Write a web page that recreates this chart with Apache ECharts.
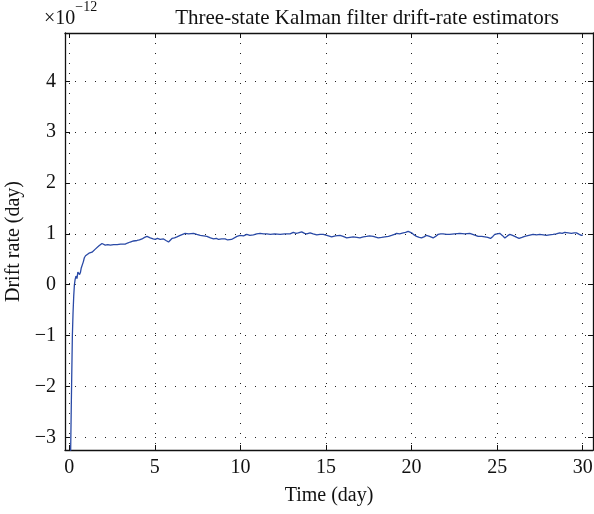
<!DOCTYPE html>
<html>
<head>
<meta charset="utf-8">
<script src="https://cdn.jsdelivr.net/npm/echarts@6/dist/echarts.min.js"></script>
<style>
  html, body { margin: 0; padding: 0; background: #fff; }
  #chart { width: 594px; height: 514px; }
</style>
</head>
<body>
<div id="chart"></div>
<script>
// time in days, drift rate in units of 1e-12
var timeDays = [
  0.05, 0.12, 0.18, 0.22, 0.26, 0.30, 0.34, 0.39, 0.45, 0.50,
  0.55, 0.60, 0.65, 0.70, 0.75, 0.82, 0.88, 0.95, 1.04, 1.15,
  1.25, 1.33, 1.42, 1.52, 1.62, 1.72, 1.81, 1.91, 2.00, 2.10,
  2.25, 2.40, 2.59, 2.80, 3.00, 3.27, 3.40, 3.56, 3.75, 3.96,
  4.10, 4.25, 4.40, 4.54, 4.65, 4.73, 4.90, 5.02, 5.15, 5.31,
  5.51, 5.65, 5.80, 6.00, 6.15, 6.29, 6.48, 6.58, 6.77, 6.97,
  7.26, 7.45, 7.65, 7.85, 8.04, 8.25, 8.43, 8.60, 8.72, 8.90,
  9.11, 9.25, 9.36, 9.48, 9.59, 9.80, 9.98, 10.18, 10.37, 10.55,
  10.76, 10.95, 11.15, 11.35, 11.54, 11.75, 12.00, 12.32, 12.60, 12.90,
  13.09, 13.25, 13.38, 13.58, 13.75, 13.87, 14.07, 14.25, 14.46, 14.65,
  14.84, 15.05, 15.33, 15.55, 15.82, 16.00, 16.21, 16.40, 16.59, 16.80,
  16.98, 17.18, 17.37, 17.55, 17.76, 18.05, 18.25, 18.44, 18.65, 18.83,
  19.00, 19.12, 19.30, 19.51, 19.65, 19.80, 19.90, 20.00, 20.15, 20.29,
  20.45, 20.58, 20.72, 20.87, 21.05, 21.26, 21.40, 21.55, 21.70, 21.84,
  22.05, 22.23, 22.50, 22.82, 23.10, 23.40, 23.65, 23.89, 24.10, 24.28,
  24.45, 24.61, 24.75, 24.86, 25.00, 25.15, 25.30, 25.45, 25.60, 25.74,
  25.90, 26.03, 26.15, 26.28, 26.45, 26.61, 26.85, 27.10, 27.30, 27.49,
  27.70, 27.88, 28.05, 28.27, 28.45, 28.66, 28.80, 28.95, 29.15, 29.34,
  29.50, 29.63, 29.80, 29.92, 30.01
];
var driftRate = [
  -4.00, -2.32, -1.01, -0.55, -0.22, 0.00, 0.10, 0.17, 0.12, 0.25,
  0.28, 0.20, 0.24, 0.33, 0.30, 0.45, 0.53, 0.57, 0.60, 0.62,
  0.63, 0.64, 0.67, 0.70, 0.72, 0.76, 0.79, 0.81, 0.79, 0.78,
  0.79, 0.78, 0.79, 0.79, 0.80, 0.80, 0.82, 0.84, 0.86, 0.87,
  0.88, 0.90, 0.93, 0.95, 0.94, 0.92, 0.90, 0.89, 0.91, 0.89,
  0.90, 0.87, 0.84, 0.91, 0.92, 0.94, 0.97, 0.99, 1.01, 1.00,
  1.01, 0.99, 0.97, 0.96, 0.95, 0.92, 0.90, 0.91, 0.89, 0.90,
  0.90, 0.88, 0.85, 0.89, 0.92, 0.95, 0.97, 0.96, 0.99, 0.97,
  0.98, 1.00, 1.01, 1.00, 1.00, 0.99, 1.00, 0.99, 1.00, 1.00,
  1.03, 1.01, 1.02, 1.04, 1.01, 1.00, 1.02, 1.00, 0.98, 0.99,
  0.99, 0.97, 0.94, 0.96, 0.97, 0.95, 0.92, 0.93, 0.94, 0.93,
  0.92, 0.94, 0.95, 0.96, 0.95, 0.92, 0.93, 0.94, 0.95, 0.97,
  0.99, 1.01, 1.00, 1.02, 1.03, 1.05, 1.04, 1.02, 0.98, 0.95,
  0.93, 0.92, 0.94, 0.97, 0.95, 0.92, 0.95, 0.99, 1.00, 1.00,
  0.99, 0.99, 1.00, 1.01, 1.00, 1.01, 0.98, 0.95, 0.95, 0.94,
  0.93, 0.91, 0.95, 0.99, 1.00, 1.01, 0.97, 0.92, 0.96, 0.99,
  0.97, 0.95, 0.93, 0.91, 0.93, 0.95, 0.97, 0.99, 0.98, 0.99,
  0.98, 0.97, 0.98, 0.99, 1.00, 1.02, 1.01, 1.03, 1.02, 1.01,
  1.02, 1.02, 0.99, 0.97, 0.98
];
var xRange = [-0.25, 30.6];
var yRange = [-3.25, 4.95];

var serif = '"Liberation Serif", "DejaVu Serif", serif';
var myChart = echarts.init(document.getElementById("chart"));

var points = timeDays.map(function (t, i) { return [t, driftRate[i]]; });

function tickLabel(step) {
  return function (v) {
    var r = Math.round(v);
    if (Math.abs(v - r) > 1e-6 || r % step !== 0) return "";
    return String(r).replace("-", "\u2212");
  };
}

var dotted = { color: "#222", width: 1, type: [1, 9] };
var boxLine = { show: true, onZero: false, lineStyle: { color: "#111", width: 1.3 } };
var tick = { show: true, inside: true, length: 5, lineStyle: { color: "#111", width: 1 } };

var option = {
  animation: false,
  grid: { left: 65, right: 1, top: 33, bottom: 64, containLabel: false, outerBoundsMode: "none" },
  graphic: [
    {
      type: "text",
      left: 44,
      top: 0,
      style: {
        text: "{a|\u00d710}{b|\u221212}",
        rich: {
          a: { fontFamily: serif, fontSize: 20, fill: "#111", padding: [9, 0, 0, 0] },
          b: { fontFamily: serif, fontSize: 14, fill: "#111", verticalAlign: "top" }
        }
      }
    }
  ],
  title: {
    text: "Three-state Kalman filter drift-rate estimators",
    left: 362,
    textAlign: "center",
    top: 3,
    textStyle: { fontFamily: serif, fontSize: 21, fontWeight: "normal", color: "#111" }
  },
  xAxis: [
    {
      type: "value",
      min: xRange[0],
      max: xRange[1],
      splitNumber: 6,
      name: "Time (day)",
      nameLocation: "middle",
      nameGap: 36,
      nameTextStyle: { fontFamily: serif, fontSize: 20, color: "#111" },
      axisLine: boxLine,
      axisTick: tick,
      axisLabel: { fontFamily: serif, fontSize: 20, color: "#111", margin: 8, formatter: tickLabel(5), showMinLabel: false, showMaxLabel: false },
      splitLine: { show: true, lineStyle: dotted }
    },
    {
      type: "value",
      position: "top",
      min: xRange[0],
      max: xRange[1],
      splitNumber: 6,
      axisLine: boxLine,
      axisTick: tick,
      axisLabel: { show: false },
      splitLine: { show: false }
    }
  ],
  yAxis: [
    {
      type: "value",
      min: yRange[0],
      max: yRange[1],
      splitNumber: 8,
      name: "Drift rate (day)",
      nameLocation: "middle",
      nameGap: 38,
      nameTextStyle: { fontFamily: serif, fontSize: 20, color: "#111" },
      axisLine: boxLine,
      axisTick: tick,
      axisLabel: { fontFamily: serif, fontSize: 20, color: "#111", margin: 9, formatter: tickLabel(1), showMinLabel: false, showMaxLabel: false },
      splitLine: { show: true, lineStyle: dotted }
    },
    {
      type: "value",
      position: "right",
      min: yRange[0],
      max: yRange[1],
      splitNumber: 8,
      axisLine: boxLine,
      axisTick: tick,
      axisLabel: { show: false },
      splitLine: { show: false }
    }
  ],
  series: [
    {
      type: "line",
      data: points,
      xAxisIndex: 0,
      yAxisIndex: 0,
      showSymbol: false,
      clip: true,
      lineStyle: { color: "#2a4aa6", width: 1.3 }
    }
  ]
};
myChart.setOption(option);
</script>
</body>
</html>
